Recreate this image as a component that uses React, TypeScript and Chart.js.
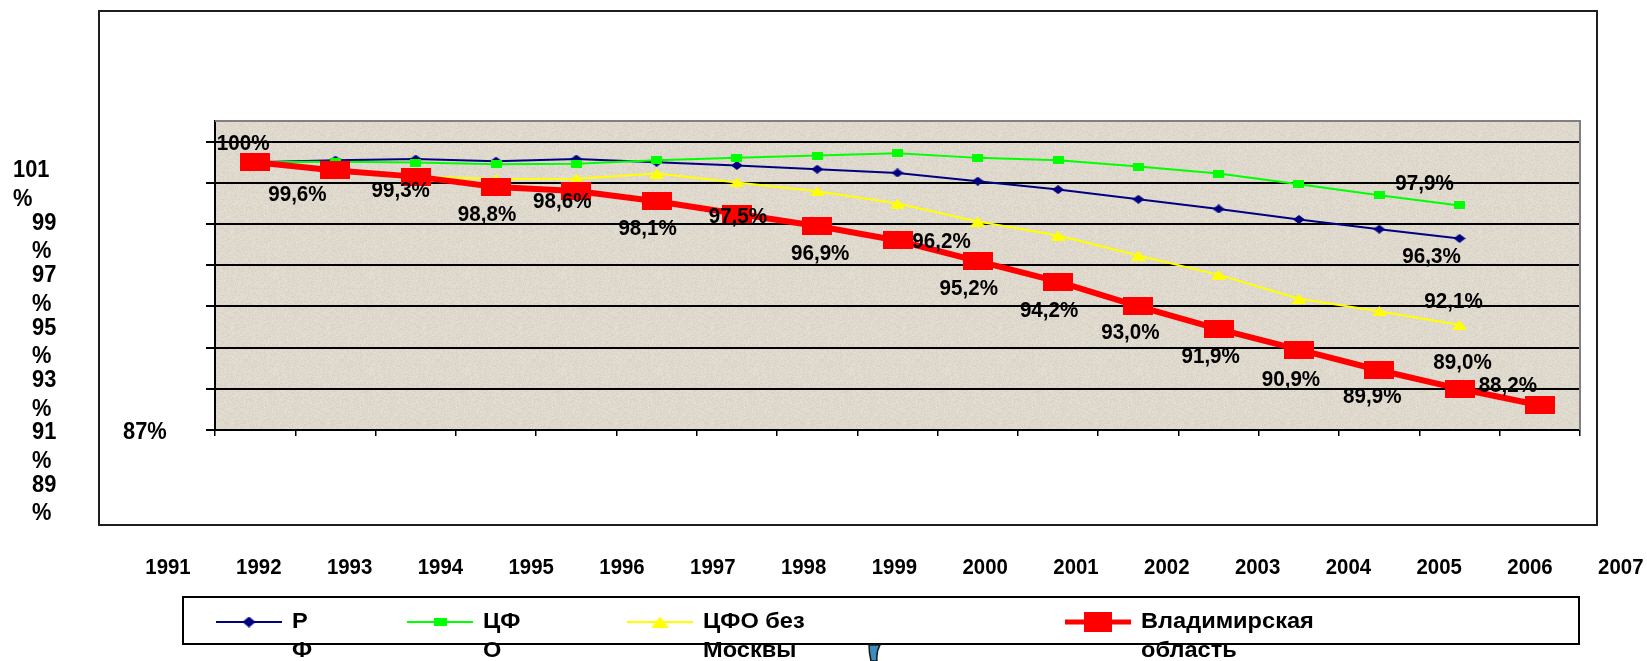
import React, { useEffect, useRef } from "react";
import { Chart, registerables } from "chart.js";

Chart.register(...registerables);

// ---------- data ----------
const years = ["1991", "1992", "1993", "1994", "1995", "1996", "1997", "1998", "1999", "2000", "2001", "2002", "2003", "2004", "2005", "2006", "2007"];
const seriesNames = ["РФ", "ЦФО", "ЦФО без Москвы", "Владимирская область"];
const rf = [100, 100.1, 100.15, 100.05, 100.15, 100.0, 99.84, 99.66, 99.48, 99.08, 98.67, 98.2, 97.73, 97.22, 96.75, 96.3];
const cfo = [100, 100.02, 99.98, 99.9, 99.93, 100.09, 100.22, 100.32, 100.43, 100.21, 100.09, 99.79, 99.45, 98.93, 98.4, 97.9];
const cfoNoMoscow = [100, 99.6, 99.3, 99.18, 99.2, 99.45, 99.02, 98.59, 97.99, 97.12, 96.44, 95.47, 94.53, 93.37, 92.76, 92.1];
const vladimir = [100, 99.6, 99.3, 98.8, 98.6, 98.1, 97.5, 96.9, 96.2, 95.2, 94.2, 93.0, 91.9, 90.9, 89.9, 89.0, 88.2];
const yTicks = [87, 89, 91, 93, 95, 97, 99, 101];
const yMin = 87;
const yMax = 102;

// ---------- layout (label offsets relative to their points, px) ----------
const vladimirLabelOffsets: [number, number][] = [
  [-12, -18], [-38, 24], [-15, 14], [-9, 28], [-14, 11], [-9, 28], [1, 3], [3, 28], [44, 1],
  [-9, 28], [-9, 29], [-8, 27], [-8, 28], [-8, 30], [-7, 27], [3, -26], [-32, -19],
];
const lastLabelOffsets: [number, number][] = [[-28, 19], [-35, -22], [-6, -23]];

const FONT = '"Liberation Sans", Arial, Helvetica, sans-serif';

function fmt(v: number): string {
  if (v === 100) return "100%";
  return v.toFixed(1).replace(".", ",") + "%";
}

function makeMarker(kind: string, w: number, h: number, color: string): HTMLCanvasElement {
  const c = document.createElement("canvas");
  c.width = w;
  c.height = h;
  const g = c.getContext("2d")!;
  g.fillStyle = color;
  g.beginPath();
  if (kind === "rect") {
    g.rect(0, 0, w, h);
  } else if (kind === "diamond") {
    g.moveTo(w / 2, 0);
    g.lineTo(w, h / 2);
    g.lineTo(w / 2, h);
    g.lineTo(0, h / 2);
    g.closePath();
  } else {
    g.moveTo(w / 2, 0);
    g.lineTo(w, h);
    g.lineTo(0, h);
    g.closePath();
  }
  g.fill();
  return c;
}

// deterministic speckled beige tile (paper-like texture of the original plot area)
function makeTexture(): HTMLCanvasElement {
  const c = document.createElement("canvas");
  c.width = 96;
  c.height = 96;
  const g = c.getContext("2d")!;
  const img = g.createImageData(96, 96);
  for (let y = 0; y < 96; y++) {
    for (let x = 0; x < 96; x++) {
      const h = Math.sin(x * 12.9898 + y * 78.233) * 43758.5453;
      const n = h - Math.floor(h);
      const d = (n - 0.5) * 14;
      const i = (y * 96 + x) * 4;
      img.data[i] = 223 + d;
      img.data[i + 1] = 216 + d;
      img.data[i + 2] = 205 + d;
      img.data[i + 3] = 255;
    }
  }
  g.putImageData(img, 0, 0);
  return c;
}

function wrapText(ctx: CanvasRenderingContext2D, text: string, maxW: number, sx: number): string[] {
  const m = (s: string) => ctx.measureText(s).width * sx;
  const words = text.split(" ");
  const lines: string[] = [];
  let cur = "";
  for (const w of words) {
    const test = cur ? cur + " " + w : w;
    if (m(test) <= maxW) {
      cur = test;
      continue;
    }
    if (cur) {
      lines.push(cur);
      cur = "";
    }
    if (m(w) <= maxW) {
      cur = w;
      continue;
    }
    let part = "";
    for (const ch of Array.from(w)) {
      if (part && m(part + ch) > maxW) {
        lines.push(part);
        part = ch;
      } else part += ch;
    }
    cur = part;
  }
  if (cur) lines.push(cur);
  return lines;
}

function drawStretched(ctx: CanvasRenderingContext2D, text: string, x: number, y: number, sx: number, sy: number) {
  ctx.save();
  ctx.translate(x, y);
  ctx.scale(sx, sy);
  ctx.fillText(text, 0, 0);
  ctx.restore();
}

export default function App() {
  const ref = useRef<HTMLCanvasElement | null>(null);

  useEffect(() => {
    const canvas = ref.current;
    if (!canvas) return;

    const mBlue = makeMarker("diamond", 12, 9, "#000080");
    const mGreen = makeMarker("rect", 11, 8, "#00ff00");
    const mYellow = makeMarker("triangle", 15, 10, "#ffff00");
    const mRed = makeMarker("rect", 30, 18, "#ff0000");
    const lBlue = makeMarker("diamond", 13, 11, "#000080");
    const lGreen = makeMarker("rect", 13, 8, "#00ff00");
    const lYellow = makeMarker("triangle", 17, 11, "#ffff00");
    const lRed = makeMarker("rect", 28, 20, "#ff0000");
    const texture = makeTexture();

    const decor = {
      id: "decor",
      beforeDraw(chart: any) {
        const { ctx, chartArea: a } = chart;
        ctx.save();
        ctx.fillStyle = "#ffffff";
        ctx.fillRect(0, 0, chart.width, chart.height);
        // outer frame
        ctx.strokeStyle = "#1e1e1e";
        ctx.lineWidth = 2;
        ctx.strokeRect(a.left - 116, a.top - 110, 1498, 514);
        // plot background
        const pat = ctx.createPattern(texture, "repeat");
        ctx.fillStyle = pat || "#dfd8cd";
        ctx.fillRect(a.left, a.top, a.right - a.left, a.bottom - a.top);
        ctx.restore();
      },
      afterDatasetsDraw(chart: any) {
        const { ctx } = chart;
        ctx.save();
        ctx.fillStyle = "#000";
        ctx.font = `bold 20px ${FONT}`;
        ctx.textAlign = "center";
        ctx.textBaseline = "middle";
        const redMeta = chart.getDatasetMeta(3);
        vladimir.forEach((v, i) => {
          const p = redMeta.data[i];
          const [dx, dy] = vladimirLabelOffsets[i];
          drawStretched(ctx, fmt(v), p.x + dx, p.y + dy, 1.03, 1.1);
        });
        [rf, cfo, cfoNoMoscow].forEach((arr, di) => {
          const meta = chart.getDatasetMeta(di);
          const i = arr.length - 1;
          const p = meta.data[i];
          const [dx, dy] = lastLabelOffsets[di];
          drawStretched(ctx, fmt(arr[i]), p.x + dx, p.y + dy, 1.03, 1.1);
        });
        ctx.restore();
      },
      afterDraw(chart: any) {
        const { ctx, chartArea: a } = chart;
        ctx.save();
        // grey top/right border of the plot
        ctx.strokeStyle = "#808080";
        ctx.lineWidth = 2;
        ctx.beginPath();
        ctx.moveTo(a.left, a.top);
        ctx.lineTo(a.right, a.top);
        ctx.lineTo(a.right, a.bottom);
        ctx.stroke();

        ctx.fillStyle = "#000";
        // y tick texts in the left column (broken layout of the original)
        ctx.font = `bold 21px ${FONT}`;
        ctx.textAlign = "left";
        ctx.textBaseline = "middle";
        const desc = [...yTicks].reverse();
        desc.slice(0, desc.length - 1).forEach((v, i) => {
          const lines = `${v} %`.split(" ");
          const x = i === 0 ? 13 : 32;
          const y0 = a.top + 50 + i * 52.4;
          lines.forEach((ln, k) => drawStretched(ctx, ln, x, y0 + k * 28.5, 1.04, 1.12));
        });
        drawStretched(ctx, `${desc[desc.length - 1]}%`, a.left - 92, a.bottom + 3, 1.04, 1.12);

        // year labels
        ctx.font = `bold 20px ${FONT}`;
        ctx.textAlign = "center";
        const step = 90.8;
        years.forEach((yr, i) => drawStretched(ctx, yr, a.left - 47 + i * step, a.bottom + 138, 1.02, 1.1));

        // legend
        const bx = 183, by = 597, bw = 1396, bh = 47;
        ctx.fillStyle = "#ffffff";
        ctx.fillRect(bx, by, bw, bh);
        ctx.strokeStyle = "#000";
        ctx.lineWidth = 2;
        ctx.strokeRect(bx, by, bw, bh);
        const items = [
          { x: 216, color: "#000080", lw: 2, mk: lBlue, maxW: 22 },
          { x: 407, color: "#00ff00", lw: 2, mk: lGreen, maxW: 42 },
          { x: 627, color: "#ffff00", lw: 2, mk: lYellow, maxW: 125 },
          { x: 1065, color: "#ff0000", lw: 5, mk: lRed, maxW: 200 },
        ];
        const ly = 622;
        const sx = 1.18;
        ctx.font = `bold 20px ${FONT}`;
        ctx.textAlign = "left";
        items.forEach((it, i) => {
          ctx.strokeStyle = it.color;
          ctx.lineWidth = it.lw;
          ctx.beginPath();
          ctx.moveTo(it.x, ly);
          ctx.lineTo(it.x + 66, ly);
          ctx.stroke();
          ctx.drawImage(it.mk, it.x + 33 - it.mk.width / 2, ly - it.mk.height / 2);
          const lines = wrapText(ctx, seriesNames[i], it.maxW, sx);
          ctx.fillStyle = "#000";
          lines.forEach((ln, k) => drawStretched(ctx, ln, it.x + 76, ly + k * 29, sx, 1.08));
        });

        // small blue shape below the legend
        ctx.beginPath();
        ctx.moveTo(869, 645);
        ctx.lineTo(880, 645);
        ctx.quadraticCurveTo(876, 652, 877, 661);
        ctx.lineTo(871, 661);
        ctx.quadraticCurveTo(869, 652, 869, 645);
        ctx.closePath();
        ctx.fillStyle = "#3b8dbd";
        ctx.fill();
        ctx.strokeStyle = "#1a1a1a";
        ctx.lineWidth = 1.5;
        ctx.stroke();
        ctx.restore();
      },
    };

    const chart = new Chart(canvas, {
      type: "line",
      data: {
        labels: years,
        datasets: [
          { label: seriesNames[0], data: rf, borderColor: "#000080", backgroundColor: "#000080", borderWidth: 2, pointStyle: mBlue as any, pointRadius: 5, tension: 0, order: 2 },
          { label: seriesNames[1], data: cfo, borderColor: "#00ff00", backgroundColor: "#00ff00", borderWidth: 2, pointStyle: mGreen as any, pointRadius: 5, tension: 0, order: 1 },
          { label: seriesNames[2], data: cfoNoMoscow, borderColor: "#ffff00", backgroundColor: "#ffff00", borderWidth: 2, pointStyle: mYellow as any, pointRadius: 5, tension: 0, order: 3 },
          { label: seriesNames[3], data: vladimir, borderColor: "#ff0000", backgroundColor: "#ff0000", borderWidth: 6, pointStyle: mRed as any, pointRadius: 9, tension: 0, order: 0 },
        ],
      },
      options: {
        responsive: false,
        animation: false,
        events: [],
        layout: { padding: { left: 206, right: 67, top: 121, bottom: 225 } },
        plugins: { legend: { display: false }, tooltip: { enabled: false } },
        scales: {
          x: {
            type: "category",
            offset: true,
            ticks: { display: false },
            grid: { display: true, drawOnChartArea: false, drawTicks: true, tickLength: 6, color: "#000", lineWidth: 1.5, offset: true },
            border: { display: true, color: "#000", width: 2 },
            afterFit: (s: any) => { s.height = 6; },
          },
          y: {
            type: "linear",
            min: yMin,
            max: yMax,
            ticks: { display: false },
            afterBuildTicks: (s: any) => { s.ticks = yTicks.map((v) => ({ value: v })); },
            grid: { color: "#000", lineWidth: 2, drawTicks: true, tickLength: 9 },
            border: { display: true, color: "#000", width: 2 },
            afterFit: (s: any) => { s.width = 9; },
          },
        },
      },
      plugins: [decor],
    });
    return () => chart.destroy();
  }, []);

  return (
    <div style={{ position: "fixed", left: 0, top: 0, width: 1647, height: 661, background: "#fff" }}>
      <canvas ref={ref} width={1647} height={661} style={{ display: "block" }} />
    </div>
  );
}
